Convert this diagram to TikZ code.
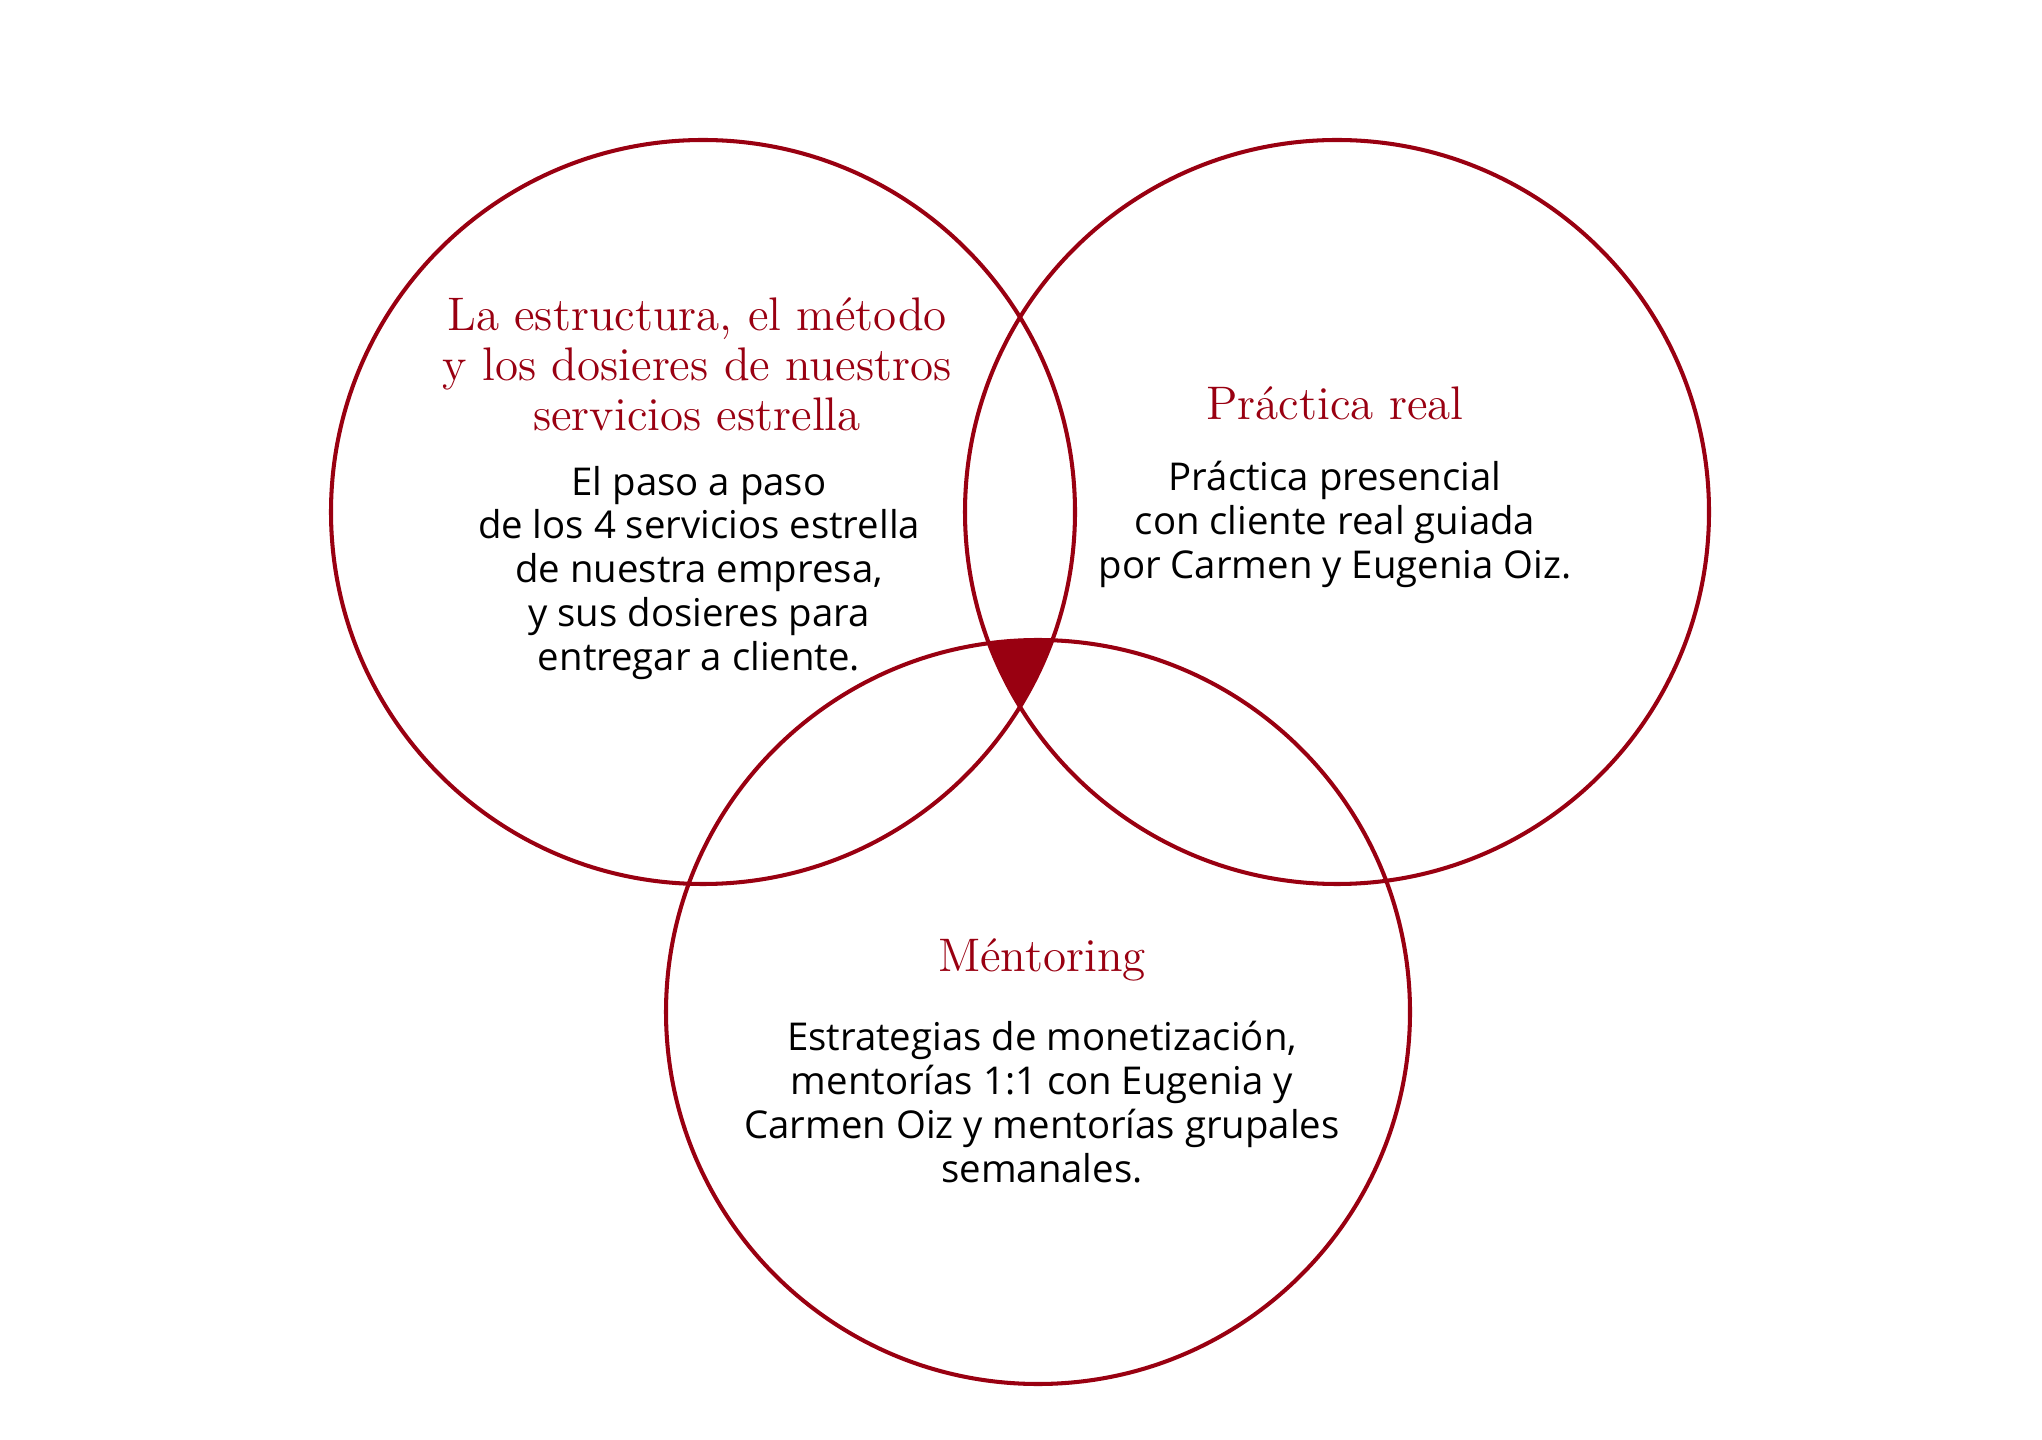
\documentclass[tikz,border=0pt]{standalone}
\usepackage{fontspec}
\setsansfont{Open Sans}
\usepackage{tikz}
\usetikzlibrary{positioning}
\definecolor{vino}{HTML}{990011}

\begin{document}
\begin{tikzpicture}[
		x=0.01cm,
		y=-0.01cm,
		ring/.style={draw=vino, line width=1.15pt},
		heading/.style={text=vino, align=center, inner sep=0pt, font=\fontsize{13.4}{14.2}\selectfont},
		body/.style={text=black, align=center, inner sep=0pt, font=\sffamily\fontsize{10.9}{12.5}\selectfont}
		]
		\useasboundingbox (0,0) rectangle (2042,1440);
		
		% Circle centres
		\coordinate (cl) at (703,512);
		\coordinate (cr) at (1337,512);
		\coordinate (cb) at (1038,1012);
		
		% Common area
		\begin{scope}
			\clip (cl) circle (372);
			\clip (cr) circle (372);
			\fill[vino] (cb) circle (372);
		\end{scope}
		
		% Circles
		\draw[ring] (cl) circle (372);
		\draw[ring] (cr) circle (372);
		\draw[ring] (cb) circle (372);
		
		% Left
		\node[heading] (tl) at (697,364) {La estructura, el método\\y los dosieres de nuestros\\servicios estrella};
		\node[body] (bl) at (699,573) {El paso a paso\\de los 4 servicios estrella\\de nuestra empresa,\\y sus dosieres para\\entregar a cliente.};
		
		% Right
		\node[heading] (tr) at (1335,403) {Práctica real};
		\node[body] (br) at (1335,524) {Práctica presencial\\con cliente real guiada\\por Carmen y Eugenia Oiz.};
		
		% Bottom
		\node[heading] (tb) at (1042,960) {Méntoring};
		\node[body] (bb) at (1042,1102) {Estrategias de monetización,\\mentorías 1:1 con Eugenia y\\Carmen Oiz y mentorías grupales\\semanales.};
	\end{tikzpicture}
\end{document}
